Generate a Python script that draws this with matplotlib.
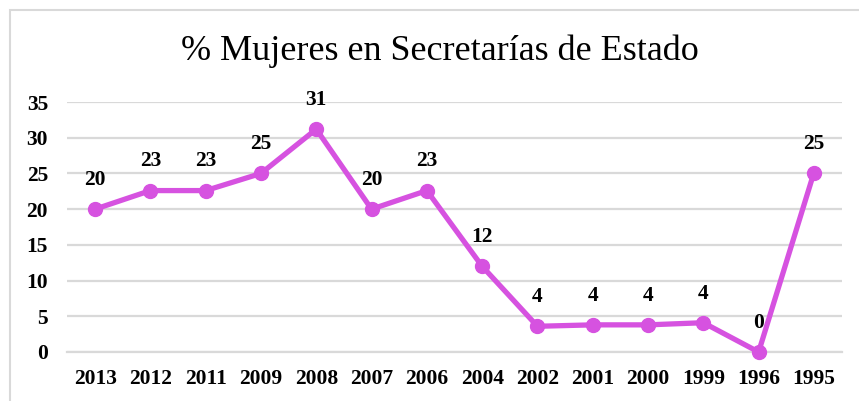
import matplotlib
matplotlib.use("Agg")
import matplotlib.pyplot as plt
from matplotlib.patches import Rectangle

# Data
years = ["2013", "2012", "2011", "2009", "2008", "2007", "2006", "2004",
         "2002", "2001", "2000", "1999", "1996", "1995"]
pct_women = [20.0, 22.6, 22.6, 25.0, 31.2, 20.0, 22.6, 12.0,
             3.6, 3.8, 3.8, 4.1, 0.0, 25.1]
y_ticks = [0, 5, 10, 15, 20, 25, 30, 35]
title = "% Mujeres en Secretarías de Estado"

line_color = "#D652E0"
grid_color = "#D9D9D9"
font = ["Liberation Serif", "DejaVu Serif"]

fig = plt.figure(figsize=(8.59, 4.01), dpi=100)
ax = fig.add_axes([0.0785, 0.1222, 0.9012, 0.6234])

# Outer chart frame
fig.patches.append(Rectangle((9.5 / 859, -0.05), 1.2, 1 - 9.5 / 401 + 0.05,
                             transform=fig.transFigure, fill=False,
                             edgecolor=grid_color, linewidth=1.5))

x = range(len(years))
ax.plot(x, pct_women, color=line_color, linewidth=3.8, marker="o",
        markersize=10, solid_capstyle="round", zorder=3, clip_on=False)

for xi, v in zip(x, pct_women):
    ax.annotate(f"{v:.0f}", (xi, v), xytext=(0, 21), textcoords="offset points",
                ha="center", va="center", fontsize=15.5, fontweight="bold",
                family=font, color="black")

ax.set_xlim(-0.5, len(years) - 0.5)
ax.set_ylim(0, 35)
ax.set_yticks(y_ticks)
ax.set_xticks(list(x))
ax.set_xticklabels(years)
ax.yaxis.grid(True, color=grid_color, linewidth=1.6)
ax.set_axisbelow(True)
for s in ["top", "right", "left"]:
    ax.spines[s].set_visible(False)
ax.spines["bottom"].set_color(grid_color)
ax.spines["bottom"].set_linewidth(1.6)
ax.tick_params(axis="both", length=0, labelsize=15.5)
ax.tick_params(axis="y", pad=14)
ax.tick_params(axis="x", pad=12)
for lbl in ax.get_xticklabels() + ax.get_yticklabels():
    lbl.set_fontfamily(font)
    lbl.set_fontweight("bold")

fig.text(0.512, 1 - 51 / 401, title, ha="center", va="center",
         fontsize=26, family=font, color="black")

fig.savefig("out.png", dpi=100, facecolor="white")
